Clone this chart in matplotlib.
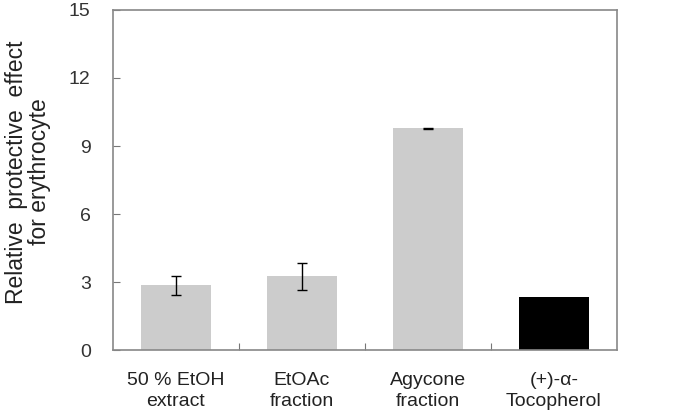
import numpy as np
import matplotlib
matplotlib.use("Agg")
import matplotlib.pyplot as plt

categories = ["50 % EtOH\nextract", "EtOAc\nfraction", "Agycone\nfraction", "(+)-\u03b1-\nTocopherol"]
values = [2.87, 3.26, 9.78, 2.34]
errors = [0.42, 0.6, 0.02, 0.0]
colors = ["#cccccc", "#cccccc", "#cccccc", "#000000"]
yticks = [0, 3, 6, 9, 12, 15]

plt.rcParams['font.family'] = ['Liberation Sans', 'DejaVu Sans']

fig = plt.figure(figsize=(6.8, 4.12), dpi=100)
ax = fig.add_axes([0.166, 0.150, 0.741, 0.826])

x = np.arange(len(categories))
ax.bar(x, values, width=0.56, color=colors)
ax.errorbar(x[:3], values[:3], yerr=errors[:3], fmt="none", ecolor="black",
            elinewidth=1, capsize=3.3, capthick=1)

ax.set_xlim(-0.5, 3.5)
ax.set_ylim(0, 15)
ax.set_yticks(yticks)
ax.set_yticklabels([str(t) for t in yticks], fontsize=14, color="#333333")

# category ticks sit between the bars
ax.set_xticks([0.5, 1.5, 2.5])
ax.set_xticklabels([])
ax.set_xticks(x, minor=True)
ax.set_xticklabels(categories, minor=True, fontsize=14, color="#222222",
                   linespacing=1.3)
ax.tick_params(axis="x", which="minor", length=0, pad=16)
ax.tick_params(axis="x", which="major", direction="in", length=5, color="#777777")
ax.tick_params(axis="y", direction="in", length=5, color="#777777", pad=16)

for s in ax.spines.values():
    s.set_color("#888888")
    s.set_linewidth(1.2)

fig.text(28 / 680, 1 - 172 / 412, "Relative  protective  effect\nfor erythrocyte",
         fontsize=16.5, rotation=90, ha="center", va="center",
         linespacing=1.05, color="#222222")

fig.savefig("out.png", dpi=100)
